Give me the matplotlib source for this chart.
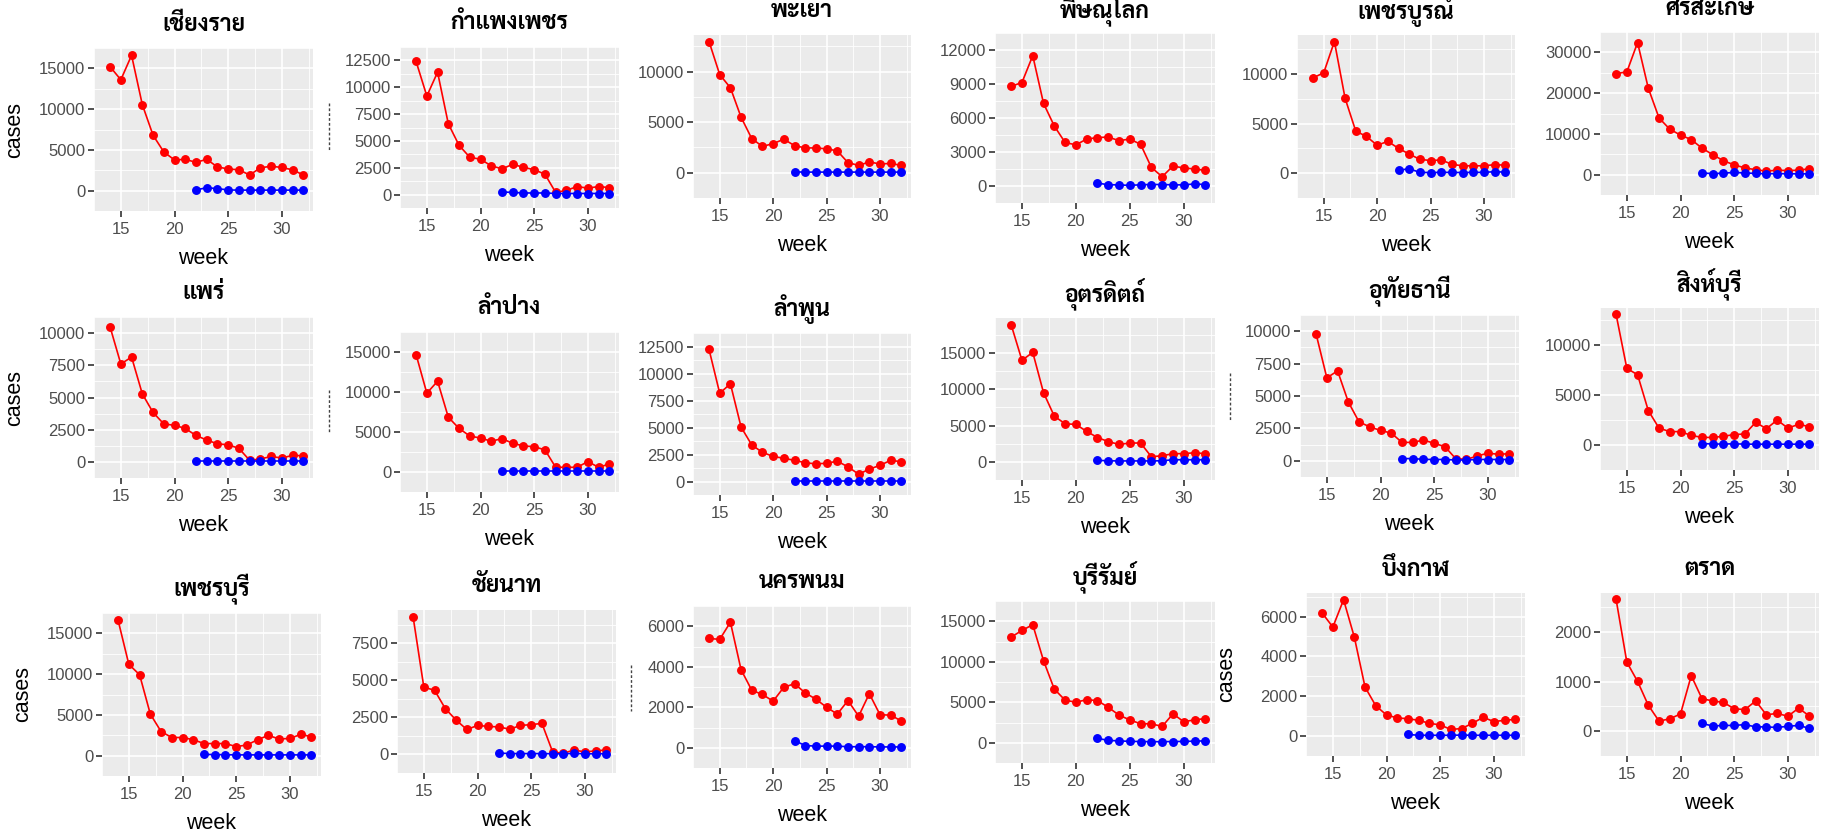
import matplotlib
matplotlib.use('Agg')
import matplotlib.pyplot as plt
from matplotlib import font_manager
from matplotlib.lines import Line2D
from matplotlib.transforms import offset_copy

# weeks on the x axis
weeks = [14, 15, 16, 17, 18, 19, 20, 21, 22, 23, 24, 25, 26, 27, 28, 29, 30, 31, 32]
weeks_blue = [22, 23, 24, 25, 26, 27, 28, 29, 30, 31, 32]
x_breaks = [15, 20, 25, 30]

# province names (panel titles), row by row
provinces = ['เชียงราย', 'กำแพงเพชร', 'พะเยา', 'พิษณุโลก', 'เพชรบูรณ์', 'ศรีสะเกษ',
             'แพร่', 'ลำปาง', 'ลำพูน', 'อุตรดิตถ์', 'อุทัยธานี', 'สิงห์บุรี',
             'เพชรบุรี', 'ชัยนาท', 'นครพนม', 'บุรีรัมย์', 'บึงกาฬ', 'ตราด']

# red series (weeks 14-32) and blue series (weeks 22-32)
chiang_rai = [15200, 13600, 16600, 10550, 6800, 4750, 3760, 3840, 3470, 3840, 2900, 2660, 2550, 1920, 2800, 2990, 2840, 2550, 1920]
chiang_rai_b = [100, 350, 250, 80, 60, 60, 60, 60, 60, 60, 60]
kamphaeng_phet = [12400, 9180, 11400, 6600, 4590, 3480, 3290, 2680, 2400, 2820, 2540, 2320, 1900, 200, 390, 750, 600, 750, 650]
kamphaeng_phet_b = [250, 200, 150, 150, 150, 100, 100, 100, 100, 100, 100]
phayao = [12970, 9700, 8400, 5480, 3370, 2600, 2880, 3310, 2680, 2450, 2450, 2360, 2160, 1000, 720, 1070, 860, 920, 720]
phayao_b = [80, 60, 60, 60, 60, 60, 60, 60, 60, 60, 60]
phitsanulok = [8800, 9130, 11500, 7290, 5290, 3840, 3630, 4140, 4270, 4320, 4000, 4140, 3680, 1640, 820, 1760, 1590, 1500, 1380]
phitsanulok_b = [260, 110, 100, 50, 110, 130, 130, 100, 100, 180, 130]
phetchabun = [9600, 10100, 13250, 7540, 4230, 3700, 2810, 3200, 2500, 1920, 1390, 1270, 1330, 890, 740, 740, 740, 860, 800]
phetchabun_b = [300, 440, 80, 60, 80, 80, 60, 80, 80, 150, 100]
sisaket = [24800, 25200, 32400, 21200, 13900, 11150, 9700, 8600, 6500, 4900, 3400, 2400, 1650, 1200, 860, 1080, 1000, 1080, 1440]
sisaket_b = [400, 250, 350, 550, 400, 300, 200, 250, 200, 200, 200]
phrae = [10470, 7600, 8140, 5280, 3840, 2950, 2840, 2600, 2050, 1700, 1400, 1330, 1050, 120, 230, 420, 300, 510, 470]
phrae_b = [90, 90, 90, 90, 90, 90, 90, 90, 90, 90, 90]
lampang = [14670, 9850, 11350, 6850, 5450, 4500, 4240, 3850, 4170, 3590, 3260, 3160, 2770, 590, 590, 590, 1300, 590, 1000]
lampang_b = [65, 65, 65, 65, 65, 65, 65, 65, 65, 65, 65]
lamphun = [12230, 8170, 9050, 5040, 3380, 2700, 2320, 2150, 1960, 1740, 1630, 1690, 1880, 1360, 680, 1140, 1500, 1960, 1830]
lamphun_b = [60, 60, 60, 60, 60, 60, 60, 60, 60, 60, 60]
uttaradit = [18900, 14000, 15100, 9540, 6300, 5250, 5170, 4200, 3360, 2800, 2400, 2600, 2600, 710, 840, 1130, 1130, 1260, 1130]
uttaradit_b = [210, 150, 130, 130, 130, 130, 150, 290, 290, 290, 290]
uthai_thani = [9780, 6400, 6940, 4540, 3000, 2620, 2340, 2140, 1420, 1420, 1600, 1350, 1090, 170, 110, 370, 590, 500, 550]
uthai_thani_b = [170, 170, 110, 100, 100, 60, 60, 100, 100, 100, 100]
sing_buri = [13060, 7670, 7030, 3440, 1690, 1340, 1340, 960, 760, 760, 870, 1050, 1100, 2270, 1630, 2500, 1690, 2070, 1840]
sing_buri_b = [150, 100, 100, 120, 90, 80, 80, 80, 80, 80, 80]
phetchaburi = [16600, 11200, 9930, 5100, 2960, 2220, 2220, 1960, 1480, 1480, 1480, 1110, 1300, 1960, 2480, 2040, 2110, 2600, 2330]
phetchaburi_b = [150, 130, 110, 90, 90, 90, 90, 90, 90, 90, 90]
chai_nat = [9300, 4550, 4340, 3100, 2330, 1690, 1960, 1900, 1860, 1710, 1960, 2020, 2100, 170, 80, 310, 170, 250, 300]
chai_nat_b = [100, 60, 60, 60, 60, 50, 40, 80, 40, 50, 50]
nakhon_phanom = [5400, 5350, 6200, 3850, 2840, 2630, 2300, 2990, 3160, 2710, 2400, 2000, 1660, 2330, 1560, 2670, 1630, 1610, 1320]
nakhon_phanom_b = [350, 110, 80, 80, 80, 50, 50, 50, 40, 40, 40]
buriram = [13050, 13860, 14580, 10130, 6620, 5260, 5000, 5320, 5200, 4380, 3410, 2820, 2340, 2340, 2010, 3570, 2600, 2820, 2990]
buriram_b = [550, 290, 230, 170, 150, 130, 130, 150, 160, 200, 230]
bueng_kan = [6180, 5470, 6840, 4970, 2460, 1520, 1060, 910, 870, 790, 640, 560, 330, 380, 640, 940, 730, 790, 840]
bueng_kan_b = [80, 40, 40, 40, 40, 50, 40, 40, 40, 40, 40]
trat = [2655, 1391, 1003, 522, 203, 249, 348, 1119, 655, 609, 580, 452, 435, 609, 330, 359, 301, 464, 307]
trat_b = [157, 104, 116, 116, 133, 87, 87, 75, 99, 116, 58]

red_series = [chiang_rai, kamphaeng_phet, phayao, phitsanulok, phetchabun, sisaket,
              phrae, lampang, lamphun, uttaradit, uthai_thani, sing_buri,
              phetchaburi, chai_nat, nakhon_phanom, buriram, bueng_kan, trat]
blue_series = [chiang_rai_b, kamphaeng_phet_b, phayao_b, phitsanulok_b, phetchabun_b, sisaket_b,
               phrae_b, lampang_b, lamphun_b, uttaradit_b, uthai_thani_b, sing_buri_b,
               phetchaburi_b, chai_nat_b, nakhon_phanom_b, buriram_b, bueng_kan_b, trat_b]

# y axis tick labels of each panel
y_breaks = [[0, 5000, 10000, 15000], [0, 2500, 5000, 7500, 10000, 12500], [0, 5000, 10000],
            [0, 3000, 6000, 9000, 12000], [0, 5000, 10000], [0, 10000, 20000, 30000],
            [0, 2500, 5000, 7500, 10000], [0, 5000, 10000, 15000], [0, 2500, 5000, 7500, 10000, 12500],
            [0, 5000, 10000, 15000], [0, 2500, 5000, 7500, 10000], [0, 5000, 10000],
            [0, 5000, 10000, 15000], [0, 2500, 5000, 7500], [0, 2000, 4000, 6000],
            [0, 5000, 10000, 15000], [0, 2000, 4000, 6000], [0, 1000, 2000]]

# panel boxes in pixels of the collage: x0, x1, y0 (top), y1 (bottom)
panel_boxes = [(94, 313, 48, 211), (400, 619, 47, 208), (693, 911, 35, 198),
               (995, 1215, 33, 203), (1297, 1515, 35, 198), (1600, 1819, 32, 195),
               (94, 313, 317, 478), (400, 619, 332, 492), (693, 911, 333, 495),
               (995, 1215, 318, 480), (1300, 1519, 315, 477), (1600, 1819, 308, 470),
               (102, 321, 613, 776), (397, 616, 610, 773), (693, 911, 606, 768),
               (995, 1215, 601, 763), (1306, 1525, 593, 756), (1600, 1819, 593, 756)]
with_ylabel = [0, 6, 12, 16]

W, H = 1826, 833


def pick(cands, default):
    names = {f.name for f in font_manager.fontManager.ttflist}
    for c in cands:
        if c in names:
            return c
    return default


thai_font = pick(['Sarabun', 'Noto Sans Thai Looped', 'Noto Sans Thai', 'Anuphan', 'Bai Jamjuree'], 'DejaVu Sans')
text_font = pick(['Liberation Sans', 'Arimo'], 'DejaVu Sans')

fig = plt.figure(figsize=(W / 100, H / 100), dpi=100)
fig.patch.set_facecolor('white')

for i in range(len(provinces)):
    x0, x1, y0, y1 = panel_boxes[i]
    ax = fig.add_axes([x0 / W, 1 - y1 / H, (x1 - x0) / W, (y1 - y0) / H])
    ax.set_facecolor('#EBEBEB')
    for s in ax.spines.values():
        s.set_visible(False)

    red = red_series[i]
    blue = blue_series[i]
    ax.plot(weeks, red, color='#FF0000', lw=1.2, marker='o', ms=5.4, zorder=3)
    ax.plot(weeks_blue, blue, color='#0000FF', lw=1.2, marker='o', ms=5.4, zorder=4)

    # ggplot style 5% expansion
    lo = min(min(red), min(blue))
    hi = max(max(red), max(blue))
    pad = 0.05 * (hi - lo)
    ax.set_ylim(lo - pad, hi + pad)
    ax.set_xlim(weeks[0] - 0.9, weeks[-1] + 0.9)

    yb = y_breaks[i]
    step = yb[1] - yb[0]
    ax.set_yticks(yb)
    ax.set_yticks([b + step / 2 for b in [yb[0] - step] + yb], minor=True)
    ax.set_xticks(x_breaks)
    ax.set_xticks([12.5, 17.5, 22.5, 27.5, 32.5], minor=True)
    ax.grid(True, which='major', color='white', lw=1.2)
    ax.grid(True, which='minor', color='white', lw=0.6)
    ax.set_axisbelow(True)
    ax.tick_params(which='major', length=4.3, width=1.2, color='#333333', labelcolor='#4D4D4D',
                   labelsize=12)
    ax.tick_params(axis='x', pad=3.5)
    ax.tick_params(axis='y', pad=2)
    ax.tick_params(which='minor', length=0)
    for lab in ax.get_xticklabels() + ax.get_yticklabels():
        lab.set_fontfamily(text_font)

    ax.text(0.5, 1, provinces[i], transform=offset_copy(ax.transAxes, fig=fig, y=17, units='points'),
            ha='center', va='center', fontsize=16.5, fontweight='bold', family=[thai_font, 'DejaVu Sans'])
    ax.text(0.5, 0, 'week', transform=offset_copy(ax.transAxes, fig=fig, y=-34, units='points'),
            ha='center', va='center', fontsize=15.5, family=text_font)
    if i in with_ylabel:
        ax.text(0, 0.5, 'cases', transform=offset_copy(ax.transAxes, fig=fig, x=-57, units='points'),
                ha='center', va='center', rotation=90, fontsize=15.5, family=text_font)

# cut-off axis label remnants between panels of the collage
for xp, ya, yb_ in [(329, 103, 150), (329, 390, 433), (1230, 373, 420), (631, 665, 711)]:
    fig.add_artist(Line2D([xp / W, xp / W], [1 - ya / H, 1 - yb_ / H], transform=fig.transFigure,
                          color='#444444', lw=1, ls=(0, (2, 1.5))))

fig.savefig('out.png', dpi=100)
